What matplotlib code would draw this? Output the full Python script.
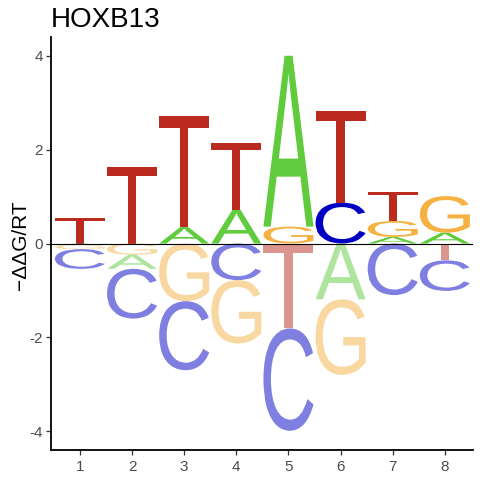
import matplotlib
matplotlib.use("Agg")
import matplotlib.pyplot as plt
from matplotlib.textpath import TextPath
from matplotlib.font_manager import FontProperties
from matplotlib.patches import PathPatch
from matplotlib.transforms import Affine2D

# energy logo values (-ddG/RT) per position
positions = [1, 2, 3, 4, 5, 6, 7, 8]
A = [-0.04, -0.30, 0.35, 0.72, 3.64, -1.19, 0.14, 0.23]
C = [-0.42, -1.06, -1.47, -0.78, -2.18, 0.87, -1.10, -0.65]
G = [-0.08, -0.24, -1.23, -1.35, 0.36, -1.61, 0.34, 0.78]
T = [0.55, 1.62, 2.37, 1.43, -1.81, 1.96, 0.62, -0.36]

y_ticks = [-4, -2, 0, 2, 4]
y_tick_labels = ["-4", "-2", "0", "2", "4"]
title = "HOXB13"
y_label = "\u2212\u0394\u0394G/RT"

colors = {"A": "#5FCB3D", "C": "#0000C4", "G": "#F5B142", "T": "#BA2A1F"}
letter_font = FontProperties(family="Liberation Sans", weight="normal")
letter_width = 0.96


def draw_letter(ax, letter, x, y0, h, color, alpha):
    tp = TextPath((0, 0), letter, size=1, prop=letter_font)
    bb = tp.get_extents()
    tr = (Affine2D()
          .translate(-bb.x0, -bb.y0)
          .scale(letter_width / bb.width, h / bb.height)
          .translate(x - letter_width / 2, y0))
    path = tr.transform_path(tp)
    ax.add_patch(PathPatch(path, facecolor=color, edgecolor="none", alpha=alpha, lw=0))


fig = plt.figure(figsize=(4.8, 4.8), dpi=100)
ax = fig.add_axes([51 / 480, 30 / 480, 422 / 480, 413 / 480])

values = {"A": A, "C": C, "G": G, "T": T}
for i, pos in enumerate(positions):
    col = [(k, values[k][i]) for k in "ACGT"]
    pos_vals = sorted([c for c in col if c[1] > 0], key=lambda c: c[1])
    neg_vals = sorted([c for c in col if c[1] < 0], key=lambda c: -c[1])
    base = 0.0
    for k, v in pos_vals:
        draw_letter(ax, k, pos, base, v, colors[k], 1.0)
        base += v
    base = 0.0
    for k, v in neg_vals:
        draw_letter(ax, k, pos, base + v, -v, colors[k], 0.5)
        base += v

ax.axhline(0, color="black", lw=0.8, zorder=5)

ax.set_xlim(0.445, 8.54)
ax.set_ylim(-4.4, 4.4)
ax.set_xticks(positions)
ax.set_xticklabels([str(p) for p in positions])
ax.set_yticks(y_ticks)
ax.set_yticklabels(y_tick_labels)

for side in ["top", "right"]:
    ax.spines[side].set_visible(False)
for side in ["left", "bottom"]:
    ax.spines[side].set_linewidth(1.3)
    ax.spines[side].set_color("black")

ax.tick_params(axis="both", length=3.5, width=0.9, color="#333333",
               labelcolor="#4D4D4D", labelsize=11)
ax.tick_params(axis="y", pad=2.2)
ax.tick_params(axis="x", pad=4)
for lab in ax.get_xticklabels() + ax.get_yticklabels():
    lab.set_family("Liberation Sans")

ax.set_title(title, loc="left", fontsize=20, family="Liberation Sans", pad=7.2)
fig.text(20.5 / 480, 0.49, y_label, rotation=90, ha="center", va="center",
         fontsize=15, family="Liberation Sans")

fig.savefig("out.png", dpi=100)
